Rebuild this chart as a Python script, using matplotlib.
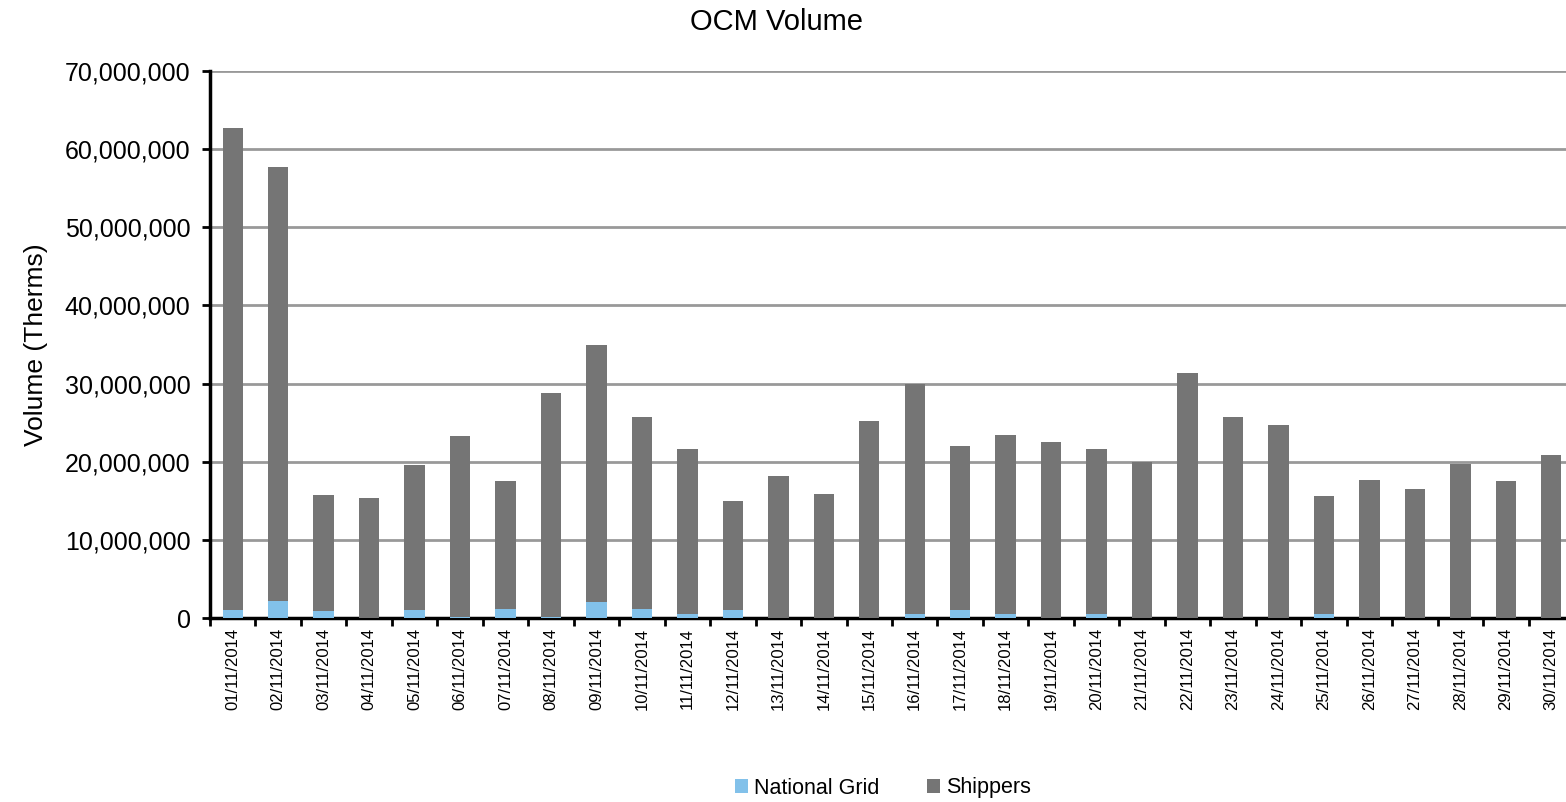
import numpy as np
import matplotlib.pyplot as plt
from matplotlib.ticker import FuncFormatter, FixedLocator, NullFormatter

plt.rcParams['font.family'] = ['Liberation Sans', 'DejaVu Sans']

# Données (volumes en therms)
dates = ["%02d/11/2014" % d for d in range(1, 31)]
national_grid = [1.0e6, 2.2e6, 0.9e6, 0, 1.0e6, 0.15e6, 1.2e6, 0.15e6, 2.1e6, 1.2e6,
                 0.5e6, 1.0e6, 0, 0, 0, 0.5e6, 1.0e6, 0.5e6, 0, 0.5e6,
                 0, 0, 0, 0, 0.5e6, 0, 0, 0, 0, 0]
total = [62.7e6, 57.7e6, 15.7e6, 15.4e6, 19.6e6, 23.3e6, 17.5e6, 28.8e6, 34.9e6, 25.7e6,
         21.6e6, 15.0e6, 18.2e6, 15.9e6, 25.2e6, 29.9e6, 22.0e6, 23.4e6, 22.5e6, 21.6e6,
         20.0e6, 31.4e6, 25.7e6, 24.7e6, 15.6e6, 17.7e6, 16.5e6, 19.7e6, 17.5e6, 20.9e6]
shippers = [t - n for t, n in zip(total, national_grid)]

fig = plt.figure(figsize=(15.66, 8.02), dpi=100)
ax = fig.add_axes([210 / 1566, 1 - 618 / 802, 1364 / 1566, 547 / 802])

x = np.arange(len(dates))
ax.bar(x, national_grid, width=0.45, color="#82C1EA", label="National Grid", zorder=3)
ax.bar(x, shippers, width=0.45, bottom=national_grid, color="#757575", label="Shippers", zorder=3)

ax.set_xlim(-0.5, len(dates) - 0.5)
ax.set_ylim(0, 70e6)
ax.set_yticks(np.arange(0, 70e6 + 1, 10e6))
ax.yaxis.set_major_formatter(FuncFormatter(lambda v, p: "{:,.0f}".format(v)))
ax.grid(axis="y", color="#999999", linewidth=2, zorder=0)

# Graduations entre les catégories, étiquettes au centre
ax.xaxis.set_major_locator(FixedLocator(np.arange(-0.5, len(dates), 1)))
ax.xaxis.set_major_formatter(NullFormatter())
ax.xaxis.set_minor_locator(FixedLocator(x))
ax.set_xticklabels(dates, minor=True, rotation=90, fontsize=12)
ax.tick_params(axis="x", which="minor", length=0, pad=7)
ax.tick_params(axis="x", which="major", length=6, width=2, direction="out")
ax.tick_params(axis="y", length=6, width=2, direction="out", labelsize=18, pad=8)

for s in ["top", "right"]:
    ax.spines[s].set_visible(False)
ax.spines["left"].set_linewidth(2.5)
ax.spines["bottom"].set_linewidth(2.5)

ax.set_ylabel("Volume (Therms)", fontsize=19, labelpad=12)
fig.text(776 / 1566, 1 - 22 / 802, "OCM Volume", ha="center", va="center", fontsize=21)

fig.legend(loc="center", bbox_to_anchor=(883 / 1566, 1 - 788 / 802), ncol=2, frameon=False,
           fontsize=15.5, handlelength=0.6, handleheight=0.6, columnspacing=2.2, handletextpad=0.3)

fig.savefig("out.png", dpi=100)
